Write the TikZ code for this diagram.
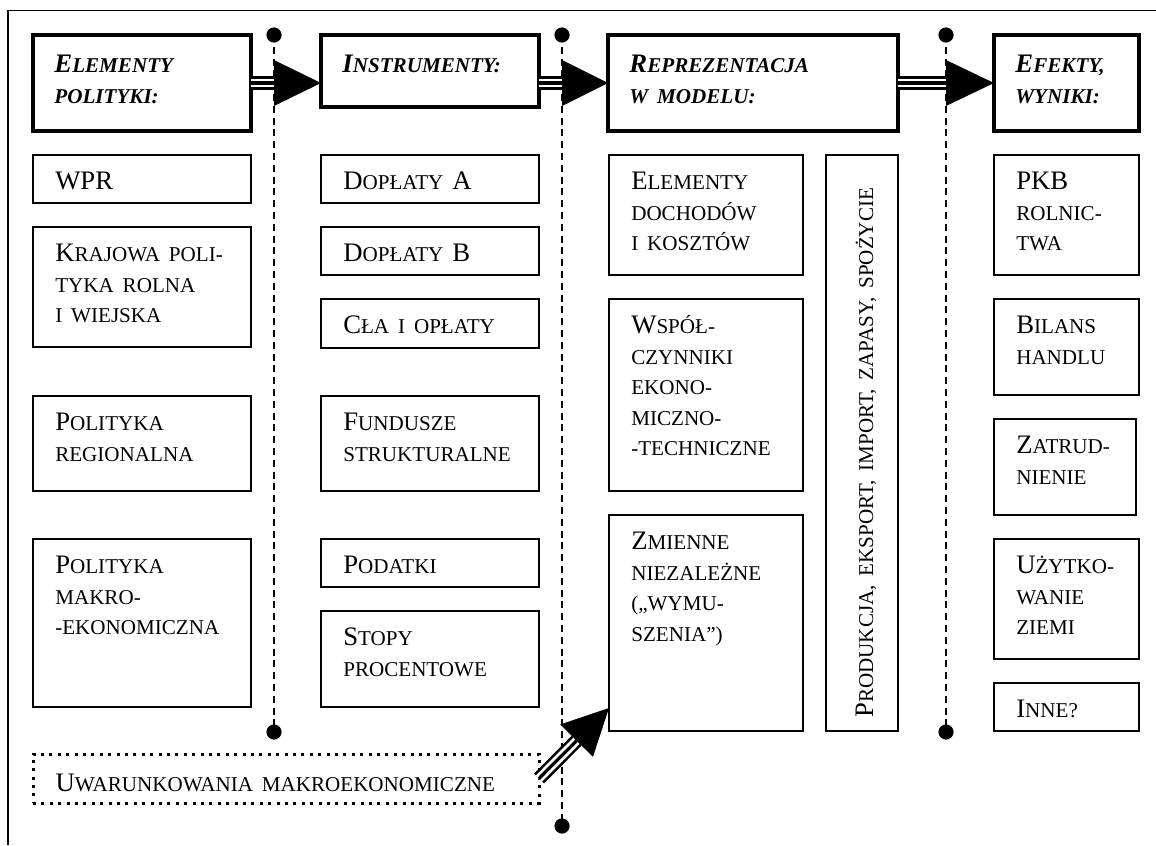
\documentclass[tikz,border=0pt]{standalone}
\usepackage{fontspec}
\setmainfont{Liberation Serif}
\usetikzlibrary{calc}

\newcommand\kap[1]{{\fontsize{15}{21.7}\selectfont #1}}

\tikzset{
    cell/.style={draw, line width=1.1pt, inner sep=0pt, outer sep=0pt},
    headcell/.style={draw, line width=2.3pt, inner sep=0pt, outer sep=0pt},
    dotcell/.style={draw, line width=0.075cm, dash pattern=on 0.075cm off 0.135cm, inner sep=0pt, outer sep=0pt},
    celltext/.style={anchor=base west, inner sep=0pt, align=left, text width=13cm,
                     font=\fontsize{19}{21.7}\selectfont},
    headtext/.style={celltext, font=\fontsize{19}{21.7}\selectfont\bfseries\itshape},
    sepline/.style={line width=0.9pt, dash pattern=on 0.175cm off 0.12cm},
    frame/.style={line width=1.4pt},
    shaft/.style={line width=0.065cm, double=white, double distance=0.22cm},
    shaftcore/.style={line width=0.08cm}
}

\begin{document}
\begin{tikzpicture}
            \useasboundingbox (0,0) rectangle (28.9,-21.125);
            \draw[frame] (0.21,-21.125) -- (0.21,-0.2625) -- (28.9,-0.2625);

            % dashed separators
            \coordinate (s1top) at (6.85,-0.875);
            \coordinate (s1bot) at (6.85,-18.3);
            \coordinate (s2top) at (14.05,-0.875);
            \coordinate (s2bot) at (14.05,-20.65);
            \coordinate (s3top) at (23.65,-0.875);
            \coordinate (s3bot) at (23.65,-18.3);
            \draw[sepline] (s1top) -- (s1bot);
            \draw[sepline] (s2top) -- (s2bot);
            \draw[sepline] (s3top) -- (s3bot);
            \fill (s1top) circle (0.19);
            \fill (s1bot) circle (0.19);
            \fill (s2top) circle (0.19);
            \fill (s2bot) circle (0.19);
            \fill (s3top) circle (0.19);
            \fill (s3bot) circle (0.19);

            % headings
            \node[headcell, minimum width=5.45cm, minimum height=2.4cm] (elem) at (3.55, -2.075) {};
            \node[headcell, minimum width=5.45cm, minimum height=1.8cm] (instr) at (10.75, -1.775) {};
            \node[headcell, minimum width=7.25cm, minimum height=2.4cm] (repr) at (18.825, -2.075) {};
            \node[headcell, minimum width=3.625cm, minimum height=2.4cm] (efekt) at (26.6625, -2.075) {};
            \node[headtext] (elem-t) at ([shift={(0.53,-0.9375)}]elem.north west) {E\kap{LEMENTY}\\\kap{POLITYKI:}};
            \node[headtext] (instr-t) at ([shift={(0.53,-0.9375)}]instr.north west) {I\kap{NSTRUMENTY:}};
            \node[headtext] (repr-t) at ([shift={(0.53,-0.9375)}]repr.north west) {R\kap{EPREZENTACJA}\\\kap{W MODELU:}};
            \node[headtext] (efekt-t) at ([shift={(0.53,-0.9375)}]efekt.north west) {E\kap{FEKTY,}\\\kap{WYNIKI:}};

            % first column
            \node[cell, minimum width=5.45cm, minimum height=1.2cm] (wpr) at (3.55, -4.475) {};
            \node[cell, minimum width=5.45cm, minimum height=3cm] (kraj) at (3.55, -7.175) {};
            \node[cell, minimum width=5.45cm, minimum height=2.375cm] (region) at (3.55, -11.0875) {};
            \node[cell, minimum width=5.45cm, minimum height=4.2cm] (makro) at (3.55, -15.575) {};
            \node[celltext] (wpr-t) at ([shift={(0.55,-0.8625)}]wpr.north west) {WPR};
            \node[celltext] (kraj-t) at ([shift={(0.55,-0.8625)}]kraj.north west) {K\kap{RAJOWA POLI-}\\\kap{TYKA ROLNA}\\\kap{I WIEJSKA}};
            \node[celltext] (region-t) at ([shift={(0.55,-0.8625)}]region.north west) {P\kap{OLITYKA}\\\kap{REGIONALNA}};
            \node[celltext] (makro-t) at ([shift={(0.55,-0.8625)}]makro.north west) {P\kap{OLITYKA}\\\kap{MAKRO-}\\\kap{-EKONOMICZNA}};

            % second column
            \node[cell, minimum width=5.45cm, minimum height=1.2cm] (dopa) at (10.75, -4.475) {};
            \node[cell, minimum width=5.45cm, minimum height=1.2cm] (dopb) at (10.75, -6.275) {};
            \node[cell, minimum width=5.45cm, minimum height=1.225cm] (cla) at (10.75, -8.0875) {};
            \node[cell, minimum width=5.45cm, minimum height=2.375cm] (fund) at (10.75, -11.0875) {};
            \node[cell, minimum width=5.45cm, minimum height=1.2cm] (podatki) at (10.75, -14.075) {};
            \node[cell, minimum width=5.45cm, minimum height=2.4cm] (stopy) at (10.75, -16.475) {};
            \node[celltext] (dopa-t) at ([shift={(0.55,-0.8625)}]dopa.north west) {D\kap{OPŁATY} A};
            \node[celltext] (dopb-t) at ([shift={(0.55,-0.8625)}]dopb.north west) {D\kap{OPŁATY} B};
            \node[celltext] (cla-t) at ([shift={(0.55,-0.8625)}]cla.north west) {C\kap{ŁA I OPŁATY}};
            \node[celltext] (fund-t) at ([shift={(0.55,-0.8625)}]fund.north west) {F\kap{UNDUSZE}\\\kap{STRUKTURALNE}};
            \node[celltext] (podatki-t) at ([shift={(0.55,-0.8625)}]podatki.north west) {P\kap{ODATKI}};
            \node[celltext] (stopy-t) at ([shift={(0.55,-0.8625)}]stopy.north west) {S\kap{TOPY}\\\kap{PROCENTOWE}};

            % third column
            \node[cell, minimum width=4.85cm, minimum height=3cm] (dochody) at (17.65, -5.375) {};
            \node[cell, minimum width=4.85cm, minimum height=4.8cm] (wspol) at (17.65, -9.875) {};
            \node[cell, minimum width=4.85cm, minimum height=5.4cm] (zmienne) at (17.65, -15.575) {};
            \node[cell, minimum width=1.8cm, minimum height=14.4cm] (prod) at (21.55, -11.075) {};
            \node[celltext] (dochody-t) at ([shift={(0.55,-0.8625)}]dochody.north west) {E\kap{LEMENTY}\\\kap{DOCHODÓW}\\\kap{I KOSZTÓW}};
            \node[celltext] (wspol-t) at ([shift={(0.55,-0.8625)}]wspol.north west) {W\kap{SPÓŁ-}\\\kap{CZYNNIKI}\\\kap{EKONO-}\\\kap{MICZNO-}\\\kap{-TECHNICZNE}};
            \node[celltext] (zmienne-t) at ([shift={(0.55,-0.8625)}]zmienne.north west) {Z\kap{MIENNE}\\\kap{NIEZALEŻNE}\\\kap{(„WYMU-}\\\kap{SZENIA”)}};
            \node[celltext, rotate=90, text width=14cm] (prod-t) at ([shift={(0.275,0.325)}]prod.south) {P\kap{RODUKCJA, EKSPORT, IMPORT, ZAPASY, SPOŻYCIE}};

            % fourth column
            \node[cell, minimum width=3.625cm, minimum height=3cm] (pkb) at (26.6625, -5.375) {};
            \node[cell, minimum width=3.625cm, minimum height=2.4cm] (bilans) at (26.6625, -8.675) {};
            \node[cell, minimum width=3.55cm, minimum height=2.4cm] (zatrud) at (26.625, -11.675) {};
            \node[cell, minimum width=3.625cm, minimum height=3cm] (uzytk) at (26.6625, -14.975) {};
            \node[cell, minimum width=3.625cm, minimum height=1.2cm] (inne) at (26.6625, -17.675) {};
            \node[celltext] (pkb-t) at ([shift={(0.55,-0.8625)}]pkb.north west) {PKB\\\kap{ROLNIC-}\\\kap{TWA}};
            \node[celltext] (bilans-t) at ([shift={(0.55,-0.8625)}]bilans.north west) {B\kap{ILANS}\\\kap{HANDLU}};
            \node[celltext] (zatrud-t) at ([shift={(0.55,-0.8625)}]zatrud.north west) {Z\kap{ATRUD-}\\\kap{NIENIE}};
            \node[celltext] (uzytk-t) at ([shift={(0.55,-0.8625)}]uzytk.north west) {U\kap{ŻYTKO-}\\\kap{WANIE}\\\kap{ZIEMI}};
            \node[celltext] (inne-t) at ([shift={(0.55,-0.8625)}]inne.north west) {I\kap{NNE?}};

            % outside conditions
            \node[dotcell, minimum width=12.65cm, minimum height=1.225cm] (uwar) at (7.15, -19.4625) {};
            \node[celltext] (uwar-t) at ([shift={(0.56,-0.94)}]uwar.north west) {U\kap{WARUNKOWANIA MAKROEKONOMICZNE}};

            % arrows
            \coordinate (a1) at (elem.east -| s1top);
            \coordinate (a2) at (elem.east -| s2top);
            \coordinate (a3) at (elem.east -| s3top);
            \draw[shaft] (elem.east) -- (a1);
            \draw[shaftcore] (elem.east) -- (a1);
            \fill ([yshift=0.575cm]a1) -- (instr.west |- a1) -- ([yshift=-0.575cm]a1) -- cycle;
            \draw[shaft] (instr.east |- a2) -- (a2);
            \draw[shaftcore] (instr.east |- a2) -- (a2);
            \fill ([yshift=0.575cm]a2) -- (repr.west |- a2) -- ([yshift=-0.575cm]a2) -- cycle;
            \draw[shaft] (repr.east) -- (a3);
            \draw[shaftcore] (repr.east) -- (a3);
            \fill ([yshift=0.575cm]a3) -- (efekt.west) -- ([yshift=-0.575cm]a3) -- cycle;

            \coordinate (zin) at ([yshift=0.575cm]zmienne.south west);
            \coordinate (zbase) at ($(zin)!1.15cm!(uwar.east)$);
            \draw[shaft] (uwar.east) -- (zbase);
            \draw[shaftcore] (uwar.east) -- (zbase);
            \fill ($(zbase)!0.575cm!90:(zin)$) -- (zin) -- ($(zbase)!0.575cm!-90:(zin)$) -- cycle;
        \end{tikzpicture}
\end{document}
